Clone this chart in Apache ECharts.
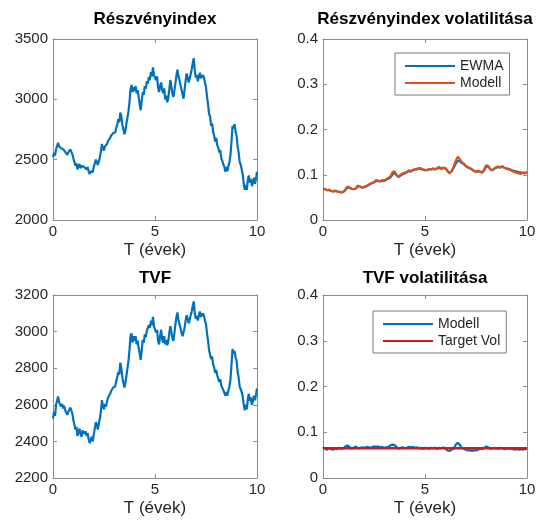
<!DOCTYPE html>
<html>
<head>
<meta charset="utf-8">
<script src="https://cdn.jsdelivr.net/npm/echarts@6/dist/echarts.min.js"></script>
<style>
html,body{margin:0;padding:0;background:#fff;}
#c{width:543px;height:523px;}
</style>
</head>
<body>
<div id="c"></div>
<script>
// ---- Data ----
const titles = ['Részvényindex', 'Részvényindex volatilitása', 'TVF', 'TVF volatilitása'];
const xAxisName = 'T (évek)';
const xTicks = [0, 5, 10];
const indexYTicks = [2000, 2500, 3000, 3500];
const tvfYTicks = [2200, 2400, 2600, 2800, 3000, 3200];
const volYTicks = [0, 0.1, 0.2, 0.3, 0.4];

// Részvényindex, sampled every 0.05 year (0 .. 10)
const indexValues = [
2520,2555,2535,2585,2600,2640,2610,2625,2595,2610,2585,2600,2565,2575,2540,2560,2545,2585,2570,2545,
2510,2480,2450,2470,2420,2445,2465,2430,2415,2450,2460,2435,2450,2420,2440,2400,2380,2405,2420,2395,
2440,2470,2500,2480,2455,2490,2520,2570,2630,2595,2575,2610,2595,2630,2655,2640,2680,2700,2690,2720,
2735,2725,2765,2790,2835,2810,2890,2860,2790,2750,2710,2740,2800,2850,2900,2980,3080,3120,3060,3100,
3070,3110,3050,3075,3020,2960,2910,2990,3060,3040,3110,3090,3150,3130,3185,3160,3225,3190,3265,3200,
3215,3160,3190,3100,3060,3110,3140,3080,3050,3090,3000,3030,2975,3010,3080,3160,3110,3050,3020,3070,
3130,3195,3245,3190,3160,3120,3080,3040,3005,3080,3150,3215,3180,3140,3170,3210,3250,3300,3340,3240,
3180,3200,3150,3190,3220,3175,3160,3200,3180,3140,3100,3020,2960,2880,2860,2780,2800,2730,2700,2650,
2680,2620,2600,2560,2580,2510,2490,2460,2440,2400,2440,2405,2450,2480,2540,2650,2780,2760,2795,2730,
2700,2610,2560,2480,2460,2420,2380,2300,2250,2290,2250,2330,2370,2310,2340,2280,2310,2350,2300,2340,
2400];

// TVF, sampled every 0.05 year (0 .. 10)
const tvfValues = [
2525,2560,2540,2600,2610,2645,2615,2625,2590,2605,2580,2595,2570,2575,2545,2560,2550,2585,2570,2550,
2515,2490,2465,2480,2430,2450,2470,2440,2425,2460,2465,2440,2455,2430,2445,2410,2390,2410,2425,2400,
2440,2470,2505,2490,2465,2500,2525,2570,2625,2590,2575,2605,2590,2620,2640,2630,2660,2675,2665,2695,
2705,2700,2730,2750,2780,2765,2830,2800,2750,2720,2695,2720,2760,2800,2840,2900,2975,2990,2940,2975,
2950,2975,2930,2950,2910,2880,2845,2900,2955,2940,2985,2970,3005,2995,3035,3020,3060,3035,3080,3030,
3040,2995,3010,2950,2930,2975,3010,2960,2940,2975,2930,2955,2925,2945,2990,3030,3000,2965,2950,2990,
3040,3080,3105,3060,3040,3020,2995,2975,2965,3020,3060,3090,3070,3045,3065,3090,3110,3140,3165,3100,
3070,3085,3060,3090,3110,3080,3075,3100,3085,3060,3040,2990,2950,2900,2890,2850,2865,2820,2805,2775,
2790,2760,2750,2725,2740,2705,2695,2680,2670,2650,2670,2650,2680,2700,2740,2820,2905,2880,2895,2860,
2840,2780,2750,2700,2690,2670,2645,2600,2570,2600,2575,2630,2660,2620,2640,2600,2620,2650,2625,2655,
2690];

// Volatilities, sampled every 0.1 year (0 .. 10)
const ewmaVol = [
.069,.068,.066,.066,.064,.063,.064,.063,.062,.061,.062,.066,.072,.071,.069,.068,.069,.074,.074,.072,
.072,.074,.076,.079,.081,.083,.086,.086,.085,.087,.086,.089,.091,.094,.100,.104,.099,.095,.098,.101,
.103,.105,.108,.107,.110,.111,.112,.114,.113,.111,.110,.110,.112,.112,.113,.112,.114,.116,.113,.115,
.114,.109,.104,.107,.115,.124,.131,.130,.126,.124,.119,.116,.114,.112,.109,.107,.108,.107,.105,.110,
.118,.118,.112,.110,.113,.116,.117,.116,.118,.115,.114,.113,.111,.109,.108,.107,.106,.105,.105,.104,
.105];
const modellVol = [
.070,.068,.066,.067,.064,.063,.065,.063,.062,.061,.063,.068,.074,.072,.069,.068,.070,.076,.074,.072,
.073,.075,.077,.080,.082,.084,.088,.087,.086,.088,.087,.090,.093,.096,.105,.108,.100,.096,.100,.103,
.104,.106,.110,.108,.111,.112,.113,.115,.114,.112,.111,.110,.113,.112,.114,.112,.115,.117,.113,.116,
.115,.108,.103,.108,.118,.130,.140,.135,.128,.125,.120,.117,.115,.112,.108,.106,.109,.107,.104,.112,
.121,.120,.112,.110,.114,.117,.118,.116,.119,.115,.113,.112,.110,.108,.106,.104,.103,.102,.104,.103,
.106];
const tvfModellVol = [
.068,.064,.062,.065,.063,.062,.064,.063,.066,.064,.065,.069,.071,.068,.064,.066,.069,.066,.065,.067,
.066,.067,.068,.066,.067,.069,.068,.069,.067,.068,.066,.067,.068,.071,.073,.072,.068,.064,.066,.067,
.065,.066,.068,.067,.068,.066,.067,.065,.066,.064,.066,.065,.064,.066,.065,.066,.064,.066,.065,.067,
.064,.060,.059,.062,.064,.072,.077,.073,.066,.064,.062,.060,.061,.059,.061,.060,.062,.064,.063,.066,
.069,.067,.064,.065,.066,.065,.064,.066,.065,.063,.064,.065,.064,.063,.062,.063,.062,.063,.062,.063,
.064];
const targetVolYears = [0, 10];
const targetVol = [0.065, 0.065];

// sampling grids (time axis positions)
const years = indexValues.map((_, i) => +(i * 0.05).toFixed(2));
const volYears = modellVol.map((_, i) => +(i * 0.1).toFixed(1));

const pair = (xs, ys) => ys.map((v, i) => [xs[i], v]);

// ---- Styling ----
const FONT = '"Liberation Sans", Arial, Helvetica, sans-serif';
const AXIS_COLOR = '#8c8c8c';
const LABEL_COLOR = '#262626';
const BLUE = '#0072BD', ORANGE = '#D95319', RED = '#d4161c';

const grids = [
  {left: 53, top: 39, width: 204, height: 181},
  {left: 323, top: 39, width: 204, height: 181},
  {left: 53, top: 295, width: 204, height: 183},
  {left: 323, top: 295, width: 204, height: 183}
];
const yTickSets = [indexYTicks, volYTicks, tvfYTicks, volYTicks];

function tickInterval(t) { return +(t[1] - t[0]).toFixed(6); }
const plainFmt = v => String(+v.toFixed(6));

const xAxes = [], yAxes = [];
for (let g = 0; g < 4; g++) {
  xAxes.push({
    type: 'value', gridIndex: g, min: xTicks[0], max: xTicks[xTicks.length - 1],
    interval: tickInterval(xTicks), position: 'bottom',
    name: xAxisName, nameLocation: 'middle', nameGap: 22,
    nameTextStyle: {fontFamily: FONT, fontSize: 17, color: LABEL_COLOR},
    axisLine: {show: true, onZero: false, lineStyle: {color: AXIS_COLOR, width: 1}},
    axisTick: {show: true, inside: true, length: 4, lineStyle: {color: AXIS_COLOR}},
    axisLabel: {fontFamily: FONT, fontSize: 15, color: LABEL_COLOR, margin: 4, formatter: plainFmt},
    splitLine: {show: false}
  });
}
for (let g = 0; g < 4; g++) {
  xAxes.push({
    type: 'value', gridIndex: g, min: xTicks[0], max: xTicks[xTicks.length - 1],
    interval: tickInterval(xTicks), position: 'top',
    axisLine: {show: true, onZero: false, lineStyle: {color: AXIS_COLOR, width: 1}},
    axisTick: {show: true, inside: true, length: 4, lineStyle: {color: AXIS_COLOR}},
    axisLabel: {show: false}, splitLine: {show: false}
  });
}
for (let g = 0; g < 4; g++) {
  const t = yTickSets[g];
  yAxes.push({
    type: 'value', gridIndex: g, min: t[0], max: t[t.length - 1],
    interval: tickInterval(t), position: 'left',
    axisLine: {show: true, onZero: false, lineStyle: {color: AXIS_COLOR, width: 1}},
    axisTick: {show: true, inside: true, length: 4, lineStyle: {color: AXIS_COLOR}},
    axisLabel: {fontFamily: FONT, fontSize: 15, color: LABEL_COLOR, margin: 5, formatter: plainFmt},
    splitLine: {show: false}
  });
}
for (let g = 0; g < 4; g++) {
  const t = yTickSets[g];
  yAxes.push({
    type: 'value', gridIndex: g, min: t[0], max: t[t.length - 1],
    interval: tickInterval(t), position: 'right',
    axisLine: {show: true, onZero: false, lineStyle: {color: AXIS_COLOR, width: 1}},
    axisTick: {show: true, inside: true, length: 4, lineStyle: {color: AXIS_COLOR}},
    axisLabel: {show: false}, splitLine: {show: false}
  });
}

const titleTops = [11, 11, 270, 270];
const title = titles.map((txt, g) => ({
  text: txt,
  left: grids[g].left + grids[g].width / 2,
  top: titleTops[g],
  textAlign: 'center',
  padding: 0,
  textStyle: {fontFamily: FONT, fontSize: 17, fontWeight: 'bold', color: '#000'}
}));

function lineSeries(name, data, g, color, width, z) {
  return {
    name, type: 'line', data, xAxisIndex: g, yAxisIndex: g,
    showSymbol: false, symbol: 'none', smooth: false, z: z || 2,
    lineStyle: {color, width}, itemStyle: {color},
    animation: false
  };
}

const series = [
  lineSeries('Részvényindex', pair(years, indexValues), 0, BLUE, 2.2),
  lineSeries('EWMA', pair(volYears, ewmaVol), 1, BLUE, 2.2, 2),
  lineSeries('Modell', pair(volYears, modellVol), 1, ORANGE, 2.2, 3),
  lineSeries('TVF', pair(years, tvfValues), 2, BLUE, 2.2),
  lineSeries('TVF Modell', pair(volYears, tvfModellVol), 3, BLUE, 2.2, 2),
  lineSeries('Target Vol', pair(targetVolYears, targetVol), 3, RED, 2.4, 3)
];

const legendBase = {
  orient: 'vertical', icon: 'rect', itemWidth: 50, itemHeight: 2, itemGap: 3,
  borderColor: '#7a7a7a', borderWidth: 1, backgroundColor: '#fff',
  textStyle: {fontFamily: FONT, fontSize: 14, color: LABEL_COLOR, lineHeight: 14},
  formatter: n => n === 'TVF Modell' ? 'Modell' : n,
  selectedMode: false
};
const legend = [
  Object.assign({}, legendBase, {data: ['EWMA', 'Modell'], left: 395, top: 53, padding: [6, 6, 5, 10]}),
  Object.assign({}, legendBase, {data: ['TVF Modell', 'Target Vol'], left: 373, top: 311, padding: [6, 6, 5, 10]})
];

const chart = echarts.init(document.getElementById('c'), null, {renderer: 'canvas'});
chart.setOption({
  backgroundColor: '#fff',
  animation: false,
  title, legend,
  grid: grids,
  xAxis: xAxes,
  yAxis: yAxes,
  series
});
</script>
</body>
</html>
